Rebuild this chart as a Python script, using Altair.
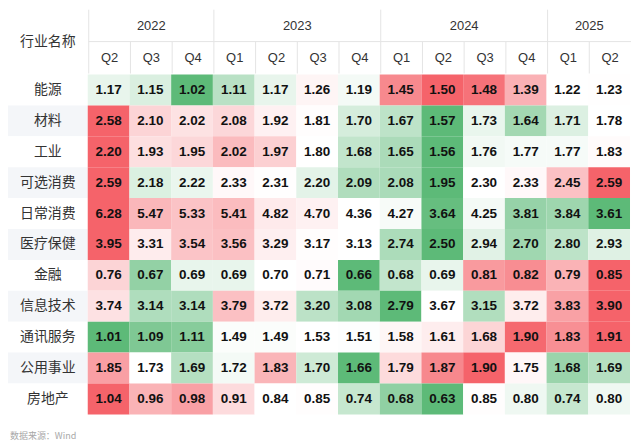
import altair as alt
import pandas as pd

# ---------------- data ----------------
industries = ["能源", "材料", "工业", "可选消费", "日常消费", "医疗保健",
              "金融", "信息技术", "通讯服务", "公用事业", "房地产"]
years = ["2022", "2022", "2022", "2023", "2023", "2023", "2023",
         "2024", "2024", "2024", "2024", "2025", "2025"]
quarters = ["Q2", "Q3", "Q4", "Q1", "Q2", "Q3", "Q4",
            "Q1", "Q2", "Q3", "Q4", "Q1", "Q2"]

energy = [1.17, 1.15, 1.02, 1.11, 1.17, 1.26, 1.19, 1.45, 1.50, 1.48, 1.39, 1.22, 1.23]
materials = [2.58, 2.10, 2.02, 2.08, 1.92, 1.81, 1.70, 1.67, 1.57, 1.73, 1.64, 1.71, 1.78]
industrials = [2.20, 1.93, 1.95, 2.02, 1.97, 1.80, 1.68, 1.65, 1.56, 1.76, 1.77, 1.77, 1.83]
cons_disc = [2.59, 2.18, 2.22, 2.33, 2.31, 2.20, 2.09, 2.08, 1.95, 2.30, 2.33, 2.45, 2.59]
cons_staples = [6.28, 5.47, 5.33, 5.41, 4.82, 4.70, 4.36, 4.27, 3.64, 4.25, 3.81, 3.84, 3.61]
health = [3.95, 3.31, 3.54, 3.56, 3.29, 3.17, 3.13, 2.74, 2.50, 2.94, 2.70, 2.80, 2.93]
financials = [0.76, 0.67, 0.69, 0.69, 0.70, 0.71, 0.66, 0.68, 0.69, 0.81, 0.82, 0.79, 0.85]
info_tech = [3.74, 3.14, 3.14, 3.79, 3.72, 3.20, 3.08, 2.79, 3.67, 3.15, 3.72, 3.83, 3.90]
comm = [1.01, 1.09, 1.11, 1.49, 1.49, 1.53, 1.51, 1.58, 1.61, 1.68, 1.90, 1.83, 1.91]
utilities = [1.85, 1.73, 1.69, 1.72, 1.83, 1.70, 1.66, 1.79, 1.87, 1.90, 1.75, 1.68, 1.69]
real_estate = [1.04, 0.96, 0.98, 0.91, 0.84, 0.85, 0.74, 0.68, 0.63, 0.85, 0.80, 0.74, 0.80]

series = [energy, materials, industrials, cons_disc, cons_staples, health,
          financials, info_tech, comm, utilities, real_estate]

header_title = "行业名称"
source_text = "数据来源：Wind"

# ---------------- tables ----------------
col_keys = [y + q for y, q in zip(years, quarters)]
n_cols = len(col_keys)

body_rows = []
for ind, vals in zip(industries, series):
    for ci, v in enumerate(vals):
        body_rows.append({"industry": ind, "col": col_keys[ci], "value": v})
df_body = pd.DataFrame(body_rows)

df_rows = pd.DataFrame({"industry": industries,
                        "shade": [i % 2 for i in range(len(industries))]})

df_q = pd.DataFrame({"q": quarters, "pos": [i + 0.5 for i in range(n_cols)]})

# year groups
groups = []
for i, y in enumerate(years):
    if groups and groups[-1]["year"] == y:
        groups[-1]["end"] = i + 1
    else:
        groups.append({"year": y, "start": i, "end": i + 1})
df_years = pd.DataFrame(groups)

# header lines
vlines = []
for i in range(n_cols):
    if i == 0 or years[i] != years[i - 1]:
        vlines.append({"pos": i, "y0": 0, "y1": 2})
    else:
        vlines.append({"pos": i, "y0": 1, "y1": 2})
df_vl = pd.DataFrame(vlines)
df_hl = pd.DataFrame({"x0": [0], "x1": [n_cols], "yy": [1]})

# ---------------- style ----------------
LABEL_W = 80
DATA_W = 544
HEAD_H = 64
ROW_H = 31
BODY_H = ROW_H * len(industries)
GREEN = "#5DBA78"
RED = "#F5636A"
LINE = "#E4E4E4"
NUM_FONT = "Liberation Sans"
CJK_FONT = "Noto Sans CJK SC"

xs = alt.Scale(domain=[0, n_cols], nice=False, zero=False)
ys = alt.Scale(domain=[0, 2], reverse=True, nice=False, zero=False)

# ---------------- header ----------------
head_label = alt.Chart(pd.DataFrame({"t": [header_title]})).mark_text(
    font=CJK_FONT, fontSize=14, color="#333333"
).encode(
    x=alt.value(LABEL_W / 2), y=alt.value(HEAD_H / 2), text="t:N"
).properties(width=LABEL_W, height=HEAD_H)

year_text = alt.Chart(df_years).transform_calculate(
    mid="(datum.start + datum.end) / 2", row="0.5"
).mark_text(font=NUM_FONT, fontSize=13, color="#333333").encode(
    x=alt.X("mid:Q", scale=xs, axis=None),
    y=alt.Y("row:Q", scale=ys, axis=None),
    text="year:N",
)
q_text = alt.Chart(df_q).transform_calculate(row="1.5").mark_text(
    font=NUM_FONT, fontSize=13, color="#333333"
).encode(
    x=alt.X("pos:Q", scale=xs, axis=None),
    y=alt.Y("row:Q", scale=ys, axis=None),
    text="q:N",
)
vrules = alt.Chart(df_vl).mark_rule(color=LINE, strokeWidth=1).encode(
    x=alt.X("pos:Q", scale=xs, axis=None),
    y=alt.Y("y0:Q", scale=ys, axis=None),
    y2="y1:Q",
)
hrules = alt.Chart(df_hl).mark_rule(color=LINE, strokeWidth=1).encode(
    x=alt.X("x0:Q", scale=xs, axis=None),
    x2="x1:Q",
    y=alt.Y("yy:Q", scale=ys, axis=None),
)
head_data = alt.layer(vrules, hrules, year_text, q_text).properties(
    width=DATA_W, height=HEAD_H
)

# ---------------- row labels ----------------
ylab = alt.Y("industry:N", sort=industries, axis=None,
             scale=alt.Scale(paddingInner=0, paddingOuter=0))
row_bg = alt.Chart(df_rows).mark_rect().encode(
    y=ylab,
    color=alt.Color("shade:N", scale=alt.Scale(domain=[0, 1], range=["#FFFFFF", "#F4F6F9"]),
                    legend=None),
)
row_text = alt.Chart(df_rows).mark_text(font=CJK_FONT, fontSize=14, color="#333333").encode(
    y=ylab, text="industry:N"
)
row_labels = alt.layer(row_bg, row_text).properties(width=LABEL_W, height=BODY_H)

# ---------------- heatmap ----------------
xcol = alt.X("col:N", sort=col_keys, axis=None,
             scale=alt.Scale(paddingInner=0, paddingOuter=0))
base = alt.Chart(df_body).transform_joinaggregate(
    vmin="min(value)", vmax="max(value)", vmed="median(value)", groupby=["industry"]
).transform_calculate(
    t="datum.value >= datum.vmed ? (datum.vmax == datum.vmed ? 0 : (datum.value - datum.vmed) / (datum.vmax - datum.vmed)) : (datum.value - datum.vmed) / (datum.vmed - datum.vmin)"
)
cells = base.mark_rect().encode(
    x=xcol, y=ylab,
    color=alt.Color("t:Q", scale=alt.Scale(type="pow", exponent=1.4,
                                           domain=[-1, 0, 1], range=[GREEN, "#FFFFFF", RED],
                                           interpolate="rgb"), legend=None),
)
nums = base.mark_text(font=NUM_FONT, fontSize=13.5, fontWeight="bold", color="#111111").encode(
    x=xcol, y=ylab, text=alt.Text("value:Q", format=".2f")
)
heat = alt.layer(cells, nums).resolve_scale(color="independent").properties(
    width=DATA_W, height=BODY_H
)

# ---------------- source ----------------
src = alt.Chart(pd.DataFrame({"t": [source_text]})).mark_text(
    font=CJK_FONT, fontSize=9, color="#A8A8A8", align="left"
).encode(x=alt.value(2), y=alt.value(22), text="t:N").properties(
    width=LABEL_W + DATA_W, height=28
)

top = alt.hconcat(head_label, head_data, spacing=0)
mid = alt.hconcat(row_labels, heat, spacing=0)
chart = alt.vconcat(top, mid, src, spacing=0).resolve_scale(color="independent").properties(
    padding=0
).configure_view(stroke=None).configure_concat(spacing=0)

chart.save("out.html", embed_options={"renderer": "svg", "actions": False})
